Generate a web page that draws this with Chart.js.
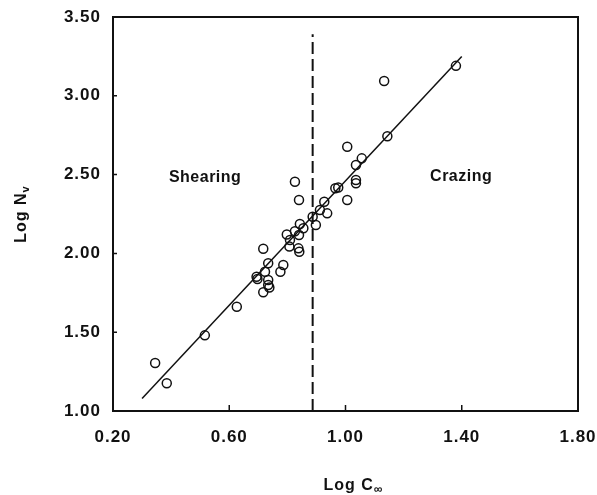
<!DOCTYPE html>
<html>
<head>
<meta charset="utf-8">
<title>Log Nv vs Log C∞</title>
<script src="https://cdn.jsdelivr.net/npm/chart.js@4.4.1/dist/chart.umd.min.js"></script>
<style>
  html, body { margin: 0; padding: 0; background: #fff; }
  #chart { display: block; }
</style>
</head>
<body>
<canvas id="chart" width="597" height="495"></canvas>
<script>
// measured polymers: log C∞ against log Nv
const logC = [0.345, 0.385, 0.516, 0.626, 0.697, 0.694, 0.717, 0.717, 0.723, 0.734, 0.734, 0.734, 0.738,
  0.776, 0.786, 0.798, 0.809, 0.807, 0.826, 0.838, 0.841, 0.840, 0.843, 0.855, 0.826, 0.840,
  0.887, 0.898, 0.912, 0.927, 0.937, 0.965, 0.975, 1.006, 1.036, 1.036, 1.036, 1.056, 1.006,
  1.144, 1.133, 1.380];
const logN = [1.305, 1.176, 1.480, 1.662, 1.838, 1.852, 1.753, 2.030, 1.884, 1.937, 1.831, 1.800, 1.784,
  1.884, 1.926, 2.120, 2.085, 2.043, 2.140, 2.032, 2.011, 2.117, 2.186, 2.160, 2.455, 2.339,
  2.233, 2.180, 2.275, 2.328, 2.254, 2.413, 2.418, 2.339, 2.466, 2.445, 2.561, 2.603, 2.677,
  2.743, 3.094, 3.190];

// least-squares fit, drawn between its end points
const fitC = [0.30, 1.40];
const fitN = [1.08, 3.25];

// shearing / crazing boundary
const boundaryC = [0.887, 0.887];
const boundaryN = [1.00, 3.39];

const xTicks = [0.20, 0.60, 1.00, 1.40, 1.80];
const yTicks = [1.00, 1.50, 2.00, 2.50, 3.00, 3.50];

const regions = ["Shearing", "Crazing"];
const regionC = [0.517, 1.398];
const regionN = [2.478, 2.485];

const FONT = "'Liberation Sans', Arial, Helvetica, sans-serif";
const INK = "#111";

const toXY = (xs, ys) => xs.map((x, i) => ({ x: x, y: ys[i] }));

// slightly spaced lettering, set after the canvas has been sized
const spacingPlugin = {
  id: "spacing",
  beforeUpdate(chart) { chart.ctx.letterSpacing = "1px"; }
};

// box, inward ticks, region labels and axis titles with subscripts
const framePlugin = {
  id: "frame",
  afterDraw(chart) {
    const ctx = chart.ctx;
    const a = chart.chartArea;
    const xs = chart.scales.x, ys = chart.scales.y;
    ctx.save();
    ctx.strokeStyle = INK;
    ctx.lineWidth = 2;
    ctx.strokeRect(a.left, a.top, a.right - a.left, a.bottom - a.top);

    ctx.lineWidth = 1.5;
    ctx.beginPath();
    xTicks.slice(1, -1).forEach(v => {
      const px = xs.getPixelForValue(v);
      ctx.moveTo(px, a.bottom);
      ctx.lineTo(px, a.bottom - 6);
    });
    yTicks.slice(1, -1).forEach(v => {
      const py = ys.getPixelForValue(v);
      ctx.moveTo(a.left, py);
      ctx.lineTo(a.left + 4, py);
    });
    ctx.stroke();

    ctx.fillStyle = INK;
    ctx.letterSpacing = "0.5px";
    ctx.font = "bold 16px " + FONT;
    ctx.textAlign = "center";
    ctx.textBaseline = "middle";
    regions.forEach((t, i) => {
      ctx.fillText(t, xs.getPixelForValue(regionC[i]), ys.getPixelForValue(regionN[i]));
    });

    // x title: Log C∞
    ctx.letterSpacing = "1px";
    const main = "Log C", sub = "\u221E";
    ctx.textAlign = "left";
    ctx.textBaseline = "alphabetic";
    ctx.font = "bold 16px " + FONT;
    const w1 = ctx.measureText(main).width;
    ctx.font = "bold 12px " + FONT;
    const w2 = ctx.measureText(sub).width;
    const x0 = (a.left + a.right) / 2 + 8 - (w1 + w2) / 2;
    ctx.font = "bold 16px " + FONT;
    ctx.fillText(main, x0, 490);
    ctx.font = "bold 12px " + FONT;
    ctx.fillText(sub, x0 + w1, 493);

    // y title: Log Nv, rotated
    ctx.save();
    ctx.translate(26, (a.top + a.bottom) / 2);
    ctx.rotate(-Math.PI / 2);
    ctx.font = "bold 16px " + FONT;
    const m1 = ctx.measureText("Log N").width;
    ctx.font = "bold 11px " + FONT;
    const m2 = ctx.measureText("v").width;
    const y0 = -(m1 + m2) / 2;
    ctx.font = "bold 16px " + FONT;
    ctx.fillText("Log N", y0, 0);
    ctx.font = "bold 11px " + FONT;
    ctx.fillText("v", y0 + m1, 3);
    ctx.restore();

    ctx.restore();
  }
};

new Chart(document.getElementById("chart"), {
  type: "scatter",
  data: {
    datasets: [
      {
        label: "polymers",
        data: toXY(logC, logN),
        pointRadius: 4.5,
        pointHoverRadius: 4.5,
        pointBorderWidth: 1.5,
        pointBorderColor: INK,
        pointBackgroundColor: "rgba(0,0,0,0)",
        showLine: false
      },
      {
        label: "fit",
        data: toXY(fitC, fitN),
        showLine: true,
        borderColor: INK,
        borderWidth: 1.5,
        pointRadius: 0
      },
      {
        label: "boundary",
        data: toXY(boundaryC, boundaryN),
        showLine: true,
        borderColor: INK,
        borderWidth: 2,
        borderDash: [12, 5],
        pointRadius: 0
      }
    ]
  },
  options: {
    responsive: false,
    animation: false,
    devicePixelRatio: 1,
    layout: { padding: { top: 17, right: 19, left: 0, bottom: 0 } },
    plugins: {
      legend: { display: false },
      tooltip: { enabled: false },
      title: { display: false }
    },
    scales: {
      x: {
        type: "linear",
        min: 0.2,
        max: 1.8,
        afterBuildTicks: s => { s.ticks = xTicks.map(v => ({ value: v })); },
        afterFit: s => { s.height = 84; s.paddingLeft = 0; s.paddingRight = 0; },
        grid: { display: false, drawTicks: false },
        border: { display: false },
        ticks: {
          autoSkip: false,
          maxRotation: 0,
          padding: 16,
          color: INK,
          font: { family: FONT, size: 17, weight: "bold" },
          callback: v => v.toFixed(2)
        }
      },
      y: {
        type: "linear",
        min: 1.0,
        max: 3.5,
        afterBuildTicks: s => { s.ticks = yTicks.map(v => ({ value: v })); },
        afterFit: s => { s.width = 113; s.paddingTop = 0; s.paddingBottom = 0; },
        grid: { display: false, drawTicks: false },
        border: { display: false },
        ticks: {
          autoSkip: false,
          padding: 12,
          color: INK,
          font: { family: FONT, size: 17, weight: "bold" },
          callback: v => v.toFixed(2)
        }
      }
    }
  },
  plugins: [spacingPlugin, framePlugin]
});
</script>
</body>
</html>
